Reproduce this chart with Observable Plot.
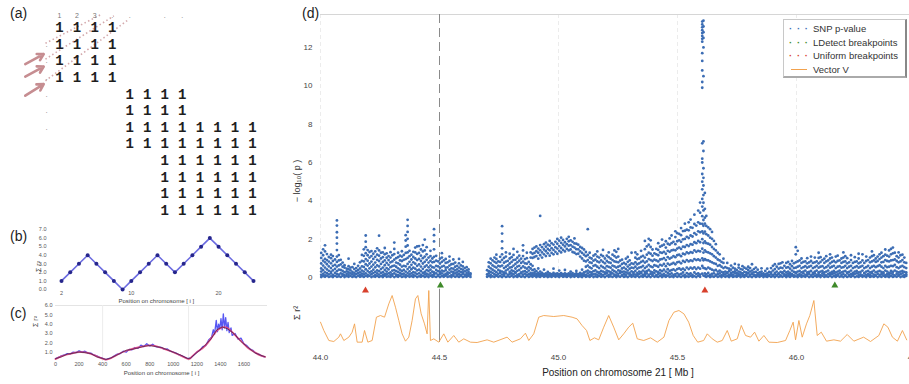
<!DOCTYPE html>
<html><head><meta charset="utf-8">
<script src="https://cdn.jsdelivr.net/npm/d3@7"></script>
<script src="https://cdn.jsdelivr.net/npm/@observablehq/plot@0.6"></script>
<style>
html,body{margin:0;padding:0;background:#fff;}
#root{position:relative;width:909px;height:384px;overflow:hidden;font-family:"Liberation Sans",Arial,sans-serif;background:#fff;}
.pane{position:absolute;}
.pane svg{background:transparent !important;max-width:none !important;display:block;}
.plab{position:absolute;font-size:14px;color:#222;font-family:"Liberation Sans",Arial,sans-serif;}
#legend{position:absolute;left:783px;top:19px;width:121px;height:56px;border:1px solid #c8c8c8;border-right:2px solid #888;border-bottom:2px solid #aaa;background:#fff;font-size:9.5px;color:#333;}
#legend .row{position:absolute;left:0;height:13px;line-height:13px;white-space:nowrap;}
#legend .mk{position:absolute;left:5px;width:20px;text-align:center;font-weight:bold;letter-spacing:1px;}
#legend .tx{position:absolute;left:29px;}
</style></head>
<body><div id="root"></div>
<script>
// ---------------- Panel (a): block matrix ----------------
const matrixRowSpans = [[0,3],[0,3],[0,3],[0,3],[4,7],[4,7],[4,11],[4,11],[6,11],[6,11],[6,11],[6,11]];
const matrixHeader = ["1","2","3",".","."," ",".","."];
const matrixRowMarks = [".",".",".",".",".","."];
const diagArrows = [[-1.95,2.2,-0.9,1.6],[-1.95,2.95,-0.9,2.35],[-1.95,4.1,-0.9,3.4]];
const diagDotted = [[-0.8,0.95,2.4,-0.8],[-0.8,1.9,3.1,-0.7],[-0.8,3.2,3.9,-0.45]];

// ---------------- Panel (b): toy sum vector ----------------
const bPos = [2,3,4,5,6,7,8,9,10,11,12,13,14,15,16,17,18,19,20,21,22,23,24];
const bSum = [1,2,3,4,3,2,1,0,1,2,3,4,3,2,3,4,5,6,5,4,3,2,1];
const bYTicks = [0,1,2,3,4,5,6,7];
const bXTicks = [2,10,20];

// ---------------- Panel (c): simulated chromosome ----------------
const cSmoothPos = [0,50,100,150,200,250,300,350,400,430,470,520,600,700,780,840,900,980,1060,1120,1145,1200,1260,1320,1370,1415,1460,1515,1570,1630,1690,1740,1780];
const cSmoothVal = [0.25,0.55,0.75,0.9,1.0,0.98,0.82,0.55,0.3,0.2,0.35,0.7,1.15,1.5,1.7,1.68,1.45,1.1,0.65,0.3,0.35,1.0,1.55,2.45,3.3,3.65,3.6,2.95,2.25,1.5,1.0,0.65,0.5];
const cNoisyPos = [0,25,50,75,100,125,150,175,200,225,250,275,300,325,350,375,400,425,450,475,500,525,550,575,600,625,650,675,700,725,750,775,800,825,850,875,900,925,950,975,1000,1025,1050,1075,1100,1125,1150,1175,1200,1225,1250,1275,1300,1325,1340,1350,1365,1375,1385,1395,1405,1415,1425,1435,1445,1455,1465,1475,1490,1500,1525,1550,1575,1600,1625,1650,1675,1700,1725,1750,1775];
const cNoisyVal = [0.3,0.45,0.6,0.7,0.85,0.8,1.0,0.95,1.15,1.0,1.1,0.9,0.9,0.7,0.6,0.45,0.35,0.2,0.3,0.4,0.6,0.8,0.85,1.1,1.0,1.3,1.25,1.5,1.4,1.75,1.6,1.9,1.65,1.85,1.6,1.55,1.5,1.3,1.35,1.1,1.0,0.9,0.7,0.6,0.45,0.3,0.4,0.7,1.0,1.2,1.6,1.7,2.3,2.6,3.4,2.9,4.4,3.2,4.0,3.5,4.6,3.4,5.1,3.6,4.7,3.3,4.2,3.1,3.6,2.8,3.0,2.4,2.5,1.9,1.7,1.35,1.2,0.9,0.8,0.6,0.5];
const cBlackPos = [0,50,100,150,200,250,300,350,400,430,470,520,600,650,700,750,800,850,900,950,1000,1060,1120,1145,1200,1260,1320,1370,1415,1460,1515,1570,1630,1690,1740,1780];
const cBlackVal = [0.3,0.5,0.8,0.88,1.02,0.95,0.85,0.5,0.32,0.22,0.38,0.68,1.2,1.3,1.45,1.62,1.72,1.6,1.5,1.25,1.0,0.7,0.32,0.35,0.95,1.6,2.4,3.4,3.7,3.5,3.0,2.2,1.55,0.95,0.68,0.5];
const cXTicks = [0,200,400,600,800,1000,1200,1400,1600];
const cYTicks = [1,2,3,4,5,6];
const cBlockEdges = [400,1130];

// ---------------- Panel (d): chromosome 21 ----------------
const dXTicks = [44.0,44.5,45.0,45.5,46.0,46.5];
const dYTicks = [0,2,4,6,8,10,12];
const dYMax = 13.72;
const highlightPos = [44.5];
const ldetectBreaks = [44.504, 46.161];
const uniformBreaks = [44.189, 45.615];

// SNP -log10(p): [position (Mb), values read at that position]
const snpSegA = [
[44.003,[0.02,0.14,0.31,0.47,0.73,1.02,1.28]],[44.011,[0.07,0.19,0.38,0.62,0.88,1.16,1.47]],[44.019,[0.04,0.11,0.27,0.52,0.79,0.97,1.36,1.68]],
[44.027,[0.09,0.23,0.42,0.69,0.91,1.22]],[44.035,[0.03,0.16,0.35,0.58,0.83,1.07]],[44.044,[0.06,0.21,0.29,0.49,0.74,1.01,1.19]],
[44.052,[0.02,0.13,0.37,0.61,0.86,1.12]],[44.061,[0.08,0.24,0.45,0.66,0.94]],[44.069,[0.04,0.18,0.33,0.57,0.81,1.09,1.43,1.77,2.08,2.36,2.71,2.98]],
[44.077,[0.06,0.15,0.41,0.63,0.89,1.17]],[44.085,[0.03,0.22,0.39,0.68,0.92]],[44.093,[0.09,0.17,0.34,0.56,0.78]],
[44.101,[0.02,0.12,0.28,0.51,0.64]],[44.110,[0.07,0.19,0.32,0.46]],[44.118,[0.04,0.14,0.26,0.43,0.59,0.98]],
[44.126,[0.08,0.21,0.37,0.52]],[44.134,[0.03,0.16,0.29,0.54]],[44.142,[0.06,0.11,0.24,0.44,0.71]],
[44.150,[0.02,0.18,0.33,0.49]],[44.158,[0.09,0.23,0.38,0.61]],[44.166,[0.04,0.13,0.27,0.47,0.79]],
[44.174,[0.07,0.2,0.36,0.58,0.87,1.18]],[44.182,[0.03,0.16,0.31,0.55,0.84,1.13,1.47]],[44.190,[0.08,0.22,0.43,0.69,0.96,1.27,1.58,1.87,2.19]],
[44.198,[0.05,0.14,0.34,0.62,0.88,1.16,1.43]],[44.206,[0.09,0.26,0.48,0.73,1.04,1.33]],[44.214,[0.02,0.17,0.32,0.57,0.83,1.12,1.38]],
[44.222,[0.06,0.23,0.41,0.67,0.97,1.24]],[44.230,[0.04,0.12,0.29,0.53,0.78,1.08,1.36]],[44.238,[0.08,0.21,0.37,0.63,0.92,1.19,1.52]],
[44.246,[0.03,0.15,0.33,0.58,0.86,1.14,1.41,2.18]],[44.254,[0.07,0.24,0.44,0.71,0.99,1.29]],[44.262,[0.02,0.13,0.28,0.52,0.81,1.06,1.31]],
[44.270,[0.09,0.19,0.39,0.64,0.89,1.21,1.54]],[44.278,[0.04,0.16,0.31,0.49,0.76,1.03,1.26]],[44.286,[0.06,0.22,0.42,0.66,0.91,1.12]],
[44.294,[0.03,0.14,0.27,0.54,0.79,1.04,1.32]],[44.302,[0.08,0.18,0.36,0.59,0.84,1.16]],[44.310,[0.02,0.21,0.38,0.62,0.93,1.22,1.49,1.82]],
[44.318,[0.07,0.15,0.33,0.56,0.78,1.01]],[44.326,[0.04,0.12,0.29,0.48,0.74,1.06,1.29]],[44.334,[0.09,0.24,0.41,0.67,0.89,1.14]],
[44.342,[0.03,0.17,0.34,0.57,0.86,1.09,1.37]],[44.350,[0.06,0.2,0.39,0.61,0.92,1.18]],[44.358,[0.02,0.13,0.31,0.58,0.96,1.28,1.61,1.93,2.21]],
[44.366,[0.08,0.23,0.44,0.71,1.02,1.31,1.67,2.02,2.38,2.69,3.01]],[44.374,[0.04,0.16,0.32,0.54,0.82,1.11,1.39]],[44.382,[0.07,0.21,0.43,0.66,0.94,1.19]],
[44.390,[0.03,0.14,0.28,0.51,0.79,1.07,1.34]],[44.398,[0.09,0.25,0.46,0.72,0.99,1.31,1.56]],[44.406,[0.02,0.18,0.37,0.61,0.91,1.23,1.62]],
[44.414,[0.06,0.22,0.41,0.68,0.97,1.28,1.64]],[44.422,[0.04,0.13,0.33,0.57,0.86,1.14,1.46]],[44.430,[0.08,0.24,0.45,0.73,1.01,1.36,1.69]],
[44.438,[0.03,0.16,0.29,0.56,0.82,1.09,1.41,1.98]],[44.446,[0.07,0.2,0.38,0.63,0.92,1.21,1.58]],[44.454,[0.02,0.15,0.34,0.53,0.78,1.04]],
[44.462,[0.09,0.23,0.41,0.62,0.87,1.12,1.39]],[44.470,[0.04,0.12,0.31,0.54,0.79,0.99]],[44.477,[0.06,0.18,0.27,0.52,0.81,1.08,1.47,1.88,2.21,2.52]],
[44.486,[0.03,0.21,0.39,0.61,0.88,1.13]],[44.494,[0.08,0.14,0.33,0.58,0.84]],[44.502,[0.02,0.17,0.29,0.49,0.73,0.98]],
[44.510,[0.07,0.22,0.36,0.57,0.82,1.04,1.27]],[44.518,[0.04,0.13,0.32,0.61,0.89]],[44.526,[0.09,0.19,0.38,0.51,0.76,0.97]],
[44.534,[0.03,0.16,0.27,0.53,0.79]],[44.542,[0.06,0.24,0.41,0.62,0.86,1.09]],[44.550,[0.02,0.12,0.31,0.48,0.69]],
[44.558,[0.08,0.18,0.29,0.46,0.71,0.94]],[44.566,[0.04,0.21,0.37,0.56,0.78]],[44.574,[0.07,0.14,0.26,0.42,0.61]],
[44.582,[0.03,0.17,0.33,0.52,0.74,0.97]],[44.590,[0.09,0.12,0.28,0.44,0.63]],[44.598,[0.02,0.19,0.26,0.41,0.58,0.81]],
[44.606,[0.06,0.15,0.32,0.49]],[44.614,[0.04,0.11,0.23,0.37,0.54]],[44.622,[0.08,0.17,0.29,0.42]],[44.630,[0.03,0.14,0.22]]
];
const snpSegB = [
[44.700,[0.04,0.16,0.38]],[44.707,[0.08,0.21,0.33,0.56,0.79]],[44.715,[0.02,0.13,0.29,0.48,0.74,0.98]],
[44.723,[0.06,0.24,0.41,0.63,0.89]],[44.731,[0.03,0.17,0.35,0.57,0.82,1.04]],[44.739,[0.09,0.12,0.28,0.52,0.76,0.97,1.19]],
[44.747,[0.04,0.19,0.39,0.61,0.84]],[44.755,[0.07,0.23,0.34,0.58,0.81,1.08]],[44.763,[0.02,0.15,0.31,0.62,0.92,1.21,1.52,1.88,2.29,2.68]],
[44.771,[0.08,0.18,0.27,0.49,0.77,1.02]],[44.779,[0.03,0.22,0.36,0.56,0.83,1.09,1.31]],[44.787,[0.06,0.14,0.42,0.63,0.87]],
[44.795,[0.04,0.19,0.29,0.51,0.73,0.99,1.24]],[44.803,[0.09,0.21,0.37,0.54,0.81,1.06]],[44.811,[0.02,0.16,0.33,0.62,0.91,1.18,1.49]],
[44.819,[0.07,0.24,0.28,0.47,0.71,0.93]],[44.827,[0.03,0.13,0.35,0.57,0.79,1.03,1.34]],[44.835,[0.08,0.18,0.39,0.61,0.88,1.14]],
[44.843,[0.04,0.22,0.26,0.49,0.76,0.98]],[44.851,[0.06,0.15,0.31,0.58,0.83,1.12,1.41,1.68]],[44.859,[0.02,0.19,0.33,0.52,0.74,0.96]],
[44.867,[0.09,0.12,0.27,0.46,0.72,1.01,1.29]],[44.875,[0.03,0.17,0.36,0.54,0.81]],[44.883,[0.07,0.14,0.24,0.47,0.69,1.04,1.31]],
[44.891,[0.04,0.12,0.21,0.38,0.61,1.02,1.24,1.49]],[44.899,[0.08,0.16,0.26,0.42,1.07,1.28,1.56]],[44.907,[0.02,0.11,0.19,0.33,1.12,1.37,1.62]],
[44.915,[0.06,0.14,0.23,0.47,0.98,1.29,1.51]],[44.923,[0.03,0.12,0.18,0.31,1.16,1.42,1.69,3.21]],[44.931,[0.09,0.15,0.24,1.04,1.31,1.58]],
[44.939,[0.04,0.11,0.17,0.41,1.21,1.46,1.74]],[44.947,[0.07,0.13,0.22,1.12,1.37,1.61,1.82]],[44.955,[0.02,0.1,0.16,0.29,1.26,1.49,1.71]],
[44.963,[0.06,0.14,0.21,1.14,1.42,1.66,1.91]],[44.971,[0.03,0.12,0.18,1.28,1.53,1.79]],[44.979,[0.08,0.15,0.24,0.46,1.21,1.44,1.72]],
[44.987,[0.04,0.11,0.19,1.34,1.58,1.86]],[44.995,[0.07,0.13,0.22,1.24,1.51,1.76,2.01]],[45.003,[0.02,0.12,0.17,0.36,1.39,1.64,1.92]],
[45.011,[0.09,0.14,0.23,1.31,1.54,1.81,2.08]],[45.019,[0.04,0.1,0.18,1.44,1.71,1.96]],[45.027,[0.06,0.13,0.21,0.39,1.36,1.62,1.84]],
[45.035,[0.03,0.11,0.17,1.49,1.74,2.02]],[45.043,[0.08,0.15,0.22,1.41,1.66,1.89,2.12]],[45.051,[0.02,0.12,0.19,0.31,1.46,1.69,1.94]],
[45.059,[0.07,0.14,0.23,1.33,1.61,1.86]],[45.067,[0.04,0.1,0.17,1.29,1.56,1.78,2.04]],[45.075,[0.09,0.13,0.21,0.34,1.22,1.48,1.76]],
[45.083,[0.03,0.11,0.18,1.24,1.47,1.71]],[45.091,[0.06,0.15,0.24,1.09,1.36,1.59]],[45.099,[0.02,0.12,0.19,0.41,0.99,1.28,1.54]],
[45.107,[0.08,0.16,0.27,0.88,1.19,1.46]],[45.115,[0.04,0.14,0.31,0.56,0.84,1.11,1.33]],[45.123,[0.07,0.21,0.36,0.62,0.91,1.18,2.52]],
[45.131,[0.03,0.13,0.29,0.53,0.79,1.04,1.29]],[45.139,[0.09,0.18,0.26,0.48,0.76,0.99]],[45.147,[0.02,0.16,0.33,0.61,0.88,1.14]]
];
const snpSegC = [
[45.155,[0.06,0.19,0.37,0.64,0.93,1.21]],[45.163,[0.03,0.14,0.29,0.56,0.84,1.09,1.36]],[45.171,[0.08,0.22,0.26,0.49,0.79,1.04]],
[45.179,[0.04,0.17,0.34,0.61,0.89,1.18]],[45.187,[0.07,0.12,0.31,0.54,0.81,1.11,1.44]],[45.195,[0.02,0.19,0.27,0.48,0.74,0.99]],
[45.203,[0.09,0.23,0.36,0.59,0.86,1.14]],[45.211,[0.04,0.13,0.32,0.55,0.79,1.06,1.31]],[45.219,[0.06,0.18,0.28,0.51,0.76,0.98]],
[45.227,[0.03,0.21,0.39,0.62,0.91,1.19]],[45.235,[0.08,0.15,0.33,0.58,0.84,1.12,1.41]],[45.243,[0.02,0.11,0.26,0.52,0.81,1.04,1.34]],
[45.251,[0.07,0.19,0.37,0.56,0.79,1.09,1.49]],[45.259,[0.04,0.24,0.34,0.61,0.88]],[45.267,[0.09,0.14,0.29,0.47,0.71,0.93]],
[45.275,[0.03,0.17,0.31,0.52,0.76]],[45.283,[0.06,0.12,0.26,0.44,0.69,0.98]],[45.291,[0.02,0.21,0.36,0.57,0.82,1.07]],
[45.299,[0.08,0.16,0.24,0.46,0.66,0.89]],[45.307,[0.04,0.13,0.32,0.51,0.74,1.29]],[45.315,[0.07,0.19,0.27,0.49,0.71]],
[45.323,[0.03,0.15,0.34,0.56,0.79,1.03,1.31]],[45.331,[0.09,0.11,0.23,0.46,0.69,0.96,1.21]],[45.339,[0.02,0.18,0.31,0.52,0.74,0.99]],
[45.347,[0.06,0.22,0.28,0.54,0.81,1.08,1.39]],[45.355,[0.04,0.14,0.36,0.61,0.86,1.13]],[45.363,[0.08,0.17,0.29,0.49,0.78,1.04,1.48,1.91]],
[45.371,[0.03,0.21,0.33,0.57,0.84,1.19,1.62]],[45.379,[0.07,0.13,0.39,0.66,0.96,1.29,1.71,2.02]],[45.387,[0.02,0.19,0.31,0.58,0.91,1.24,1.59,1.94]],
[45.395,[0.09,0.16,0.27,0.54,0.86,1.14,1.46]],[45.403,[0.04,0.23,0.37,0.64,0.93,1.26]],[45.411,[0.06,0.12,0.32,0.61,0.89,1.21,1.49]],
[45.419,[0.03,0.18,0.28,0.56,0.84,1.16,1.44,1.79]],[45.427,[0.08,0.22,0.38,0.66,0.94,1.31,1.61]],[45.435,[0.02,0.14,0.33,0.62,0.96,1.28,1.66,1.98]],
[45.443,[0.07,0.19,0.41,0.71,1.01,1.34,1.71]],[45.451,[0.04,0.11,0.31,0.59,0.91,1.24,1.56,1.89]],[45.459,[0.09,0.24,0.43,0.72,1.06,1.39,1.76]],
[45.467,[0.03,0.16,0.34,0.66,0.98,1.34,1.71,2.04]],[45.475,[0.06,0.21,0.38,0.71,1.04,1.41,1.79,2.19]],[45.483,[0.02,0.13,0.42,0.76,1.12,1.44,1.86]],
[45.491,[0.08,0.18,0.36,0.69,1.06,1.42,1.74,2.11,2.41]],[45.499,[0.04,0.22,0.44,0.79,1.16,1.51,1.89,2.31]],[45.507,[0.07,0.15,0.47,0.82,1.19,1.56,1.94,2.28]],
[45.515,[0.03,0.19,0.41,0.74,1.11,1.49,1.86,2.21,2.58]],[45.523,[0.09,0.26,0.46,0.86,1.24,1.61,1.99,2.42]],[45.531,[0.02,0.14,0.39,0.81,1.21,1.59,2.01,2.44,2.81]],
[45.539,[0.06,0.23,0.52,0.91,1.31,1.69,2.12,2.49]],[45.547,[0.04,0.17,0.44,0.84,1.26,1.64,2.06,2.46,2.88]],[45.555,[0.08,0.21,0.51,0.89,1.32,1.74,2.19,2.61,3.02]],
[45.563,[0.03,0.13,0.46,0.86,1.29,1.71,2.14,2.59]],[45.571,[0.07,0.26,0.53,0.96,1.41,1.84,2.31,2.79,3.28]],[45.579,[0.02,0.18,0.44,0.91,1.34,1.79,2.24,2.71]],
[45.587,[0.09,0.22,0.52,0.94,1.39,1.91,2.41,2.88,3.49]],[45.595,[0.04,0.15,0.46,0.89,1.36,1.84,2.36,2.81,3.38,3.91]],
[45.604,[0.2,0.6,1.0,1.5,2.0,2.4,2.8,3.2,3.7,4.1,4.6,5.0,5.4,6.0,6.2,7.0,9.9,10.2,10.8,11.3,11.7,12.3,12.45,12.6,12.75,12.9,13.05,13.2,13.35]],
[45.609,[0.1,0.5,0.9,1.3,1.8,2.3,2.7,3.0,3.5,3.9,4.3,4.8,5.2,5.7,6.6,7.1,10.5,12.0,12.5,12.8,13.1,13.4]],
[45.615,[0.07,0.21,0.48,0.96,1.42,1.88,2.39,2.81,3.12,3.58,4.41]],[45.621,[0.03,0.16,0.44,0.91,1.34,1.79,2.26,2.69,3.21]],
[45.629,[0.08,0.24,0.52,0.89,1.31,1.76,2.19,2.61]],[45.637,[0.02,0.13,0.46,0.84,1.26,1.71,2.08,2.52]],[45.645,[0.06,0.19,0.41,0.79,1.21,1.59,2.02,2.38]],
[45.653,[0.04,0.22,0.36,0.74,1.11,1.49,1.91]],[45.661,[0.09,0.14,0.39,0.71,1.04,1.41,1.74]],[45.669,[0.03,0.17,0.31,0.61,0.94,1.29]],
[45.677,[0.07,0.21,0.36,0.64,0.89,1.21]],[45.685,[0.02,0.12,0.29,0.56,0.81]],[45.693,[0.08,0.18,0.26,0.49,0.76,0.98]]
];
const snpSegD = [
[45.701,[0.04,0.16,0.31,0.54]],[45.709,[0.07,0.22,0.27,0.49,0.76]],[45.717,[0.02,0.13,0.33,0.46]],[45.725,[0.09,0.19,0.24,0.41,0.62]],
[45.733,[0.03,0.14,0.28,0.51]],[45.741,[0.06,0.21,0.32,0.46,0.71]],[45.749,[0.04,0.11,0.23,0.39]],[45.757,[0.08,0.17,0.31,0.52,0.66]],
[45.765,[0.02,0.14,0.26,0.44]],[45.773,[0.07,0.19,0.22,0.41,0.59]],[45.781,[0.03,0.12,0.29,0.51]],[45.789,[0.09,0.16,0.27,0.46]],
[45.797,[0.04,0.21,0.24,0.39,0.56]],[45.805,[0.06,0.13,0.31,0.49]],[45.813,[0.02,0.18,0.21,0.36,0.69]],[45.821,[0.08,0.14,0.27,0.44]],
[45.829,[0.03,0.11,0.29,0.52]],[45.837,[0.07,0.17,0.23,0.41]],[45.845,[0.04,0.13,0.26]],[45.853,[0.09,0.19,0.31,0.48]],
[45.861,[0.02,0.12,0.21]],[45.869,[0.06,0.16,0.34]],[45.877,[0.03,0.11,0.22,0.46]],[45.885,[0.08,0.14,0.29]],
[45.893,[0.04,0.19,0.26,0.49]],[45.901,[0.07,0.12,0.36,0.61]],[45.909,[0.02,0.17,0.24,0.44,0.69]],[45.917,[0.09,0.13,0.31,0.56]],
[45.925,[0.03,0.18,0.22,0.46,0.71]],[45.933,[0.06,0.11,0.29,0.51,0.74]],[45.941,[0.04,0.21,0.27,0.49,0.79]],[45.949,[0.08,0.16,0.34,0.61]],
[45.957,[0.02,0.12,0.26,0.51,0.76]],[45.965,[0.07,0.19,0.31,0.54,0.81]],[45.973,[0.03,0.14,0.24,0.46,0.69]],[45.981,[0.09,0.17,0.36,0.59,0.86]],
[45.989,[0.04,0.11,0.29,0.49,0.74]],[45.997,[0.06,0.21,0.26,0.51,0.79,1.21,1.58]],[46.005,[0.02,0.13,0.31,0.56,0.84,1.39]],[46.013,[0.08,0.18,0.34,0.61,0.89]],
[46.021,[0.03,0.12,0.27,0.49,0.76,0.99]],[46.029,[0.07,0.22,0.31,0.54,0.81]],[46.037,[0.04,0.14,0.36,0.59,0.84]],[46.045,[0.09,0.16,0.26,0.51,0.74,1.01]],
[46.053,[0.02,0.19,0.29,0.56,0.79]],[46.061,[0.06,0.11,0.34,0.61,0.86,1.09]],[46.069,[0.03,0.17,0.24,0.49,0.76]],[46.077,[0.08,0.21,0.31,0.54,0.79,1.04]],
[46.085,[0.04,0.13,0.36,0.61,0.84]],[46.093,[0.07,0.18,0.27,0.51,0.74,1.02,1.29]],[46.101,[0.02,0.12,0.31,0.56,0.81,1.06]],[46.109,[0.09,0.22,0.34,0.59,0.91]],
[46.117,[0.03,0.15,0.26,0.49,0.76,0.98]],[46.125,[0.06,0.11,0.31,0.54,0.84,1.11]],[46.133,[0.04,0.19,0.36,0.62,0.89]],[46.141,[0.08,0.14,0.24,0.51,0.74,0.99,1.21]],
[46.149,[0.02,0.17,0.29,0.56,0.81,1.04]],[46.157,[0.07,0.21,0.34,0.61,0.86]],[46.165,[0.03,0.12,0.26,0.49,0.79,1.09]],[46.173,[0.09,0.16,0.31,0.56,0.86,1.14]],
[46.181,[0.04,0.22,0.36,0.59,0.89]],[46.189,[0.06,0.13,0.27,0.51,0.76,0.99]],[46.197,[0.02,0.18,0.31,0.54,0.81,1.04,1.31]],[46.205,[0.08,0.11,0.34,0.61,0.84,1.11]],
[46.213,[0.03,0.21,0.26,0.49,0.74,1.01]],[46.221,[0.07,0.14,0.29,0.56,0.79]],[46.229,[0.04,0.17,0.36,0.61,0.91,1.16]],[46.237,[0.09,0.12,0.24,0.49,0.76]],
[46.245,[0.02,0.19,0.31,0.54,0.81,1.06]],[46.253,[0.06,0.22,0.34,0.59,0.84]],[46.261,[0.03,0.13,0.26,0.51,0.74,0.99,1.24]],[46.269,[0.08,0.16,0.29,0.56,0.79]],
[46.277,[0.04,0.11,0.36,0.61,0.89,1.21]],[46.285,[0.07,0.21,0.24,0.49,0.76]],[46.293,[0.02,0.14,0.31,0.54,0.86,1.09]],[46.301,[0.09,0.18,0.34,0.61,0.91]],
[46.309,[0.03,0.12,0.26,0.49,0.79,1.04]],[46.317,[0.06,0.22,0.29,0.56,0.84,1.11,1.36]],[46.325,[0.04,0.15,0.36,0.61,0.89,1.16]],[46.333,[0.08,0.11,0.27,0.54,0.81,0.99]],
[46.341,[0.02,0.19,0.31,0.59,0.86,1.09]],[46.349,[0.07,0.14,0.34,0.64,0.96,1.21]],[46.357,[0.03,0.17,0.29,0.56,0.79,1.04,1.29]],[46.365,[0.09,0.21,0.26,0.49,0.81,1.11]],
[46.373,[0.04,0.12,0.36,0.61,0.91,1.19,1.46]],[46.381,[0.06,0.18,0.31,0.54,0.86,1.14]],[46.389,[0.02,0.14,0.24,0.56,0.84,1.09,1.41]],[46.397,[0.08,0.22,0.34,0.61,0.89,1.21,1.49]],
[46.405,[0.03,0.16,0.29,0.59,0.91,1.26,1.56]],[46.413,[0.07,0.11,0.36,0.66,0.94,1.29]],[46.421,[0.04,0.19,0.31,0.54,0.86,1.11]],[46.429,[0.09,0.13,0.26,0.49,0.79,1.04,1.31]],
[46.437,[0.02,0.17,0.31,0.56,0.84,1.16]],[46.445,[0.06,0.21,0.34,0.61,0.91,1.19]],[46.453,[0.03,0.12,0.29,0.54,0.79,1.04]],[46.461,[0.08,0.16,0.26,0.49,0.76]]
];

// Vector V (sum of r^2), arbitrary units: [position (Mb), value]
const vectorV = [
[44.000,3.05],[44.014,1.8],[44.035,0.3],[44.056,0.15],[44.077,0.8],[44.084,1.3],[44.098,0.3],[44.119,0.8],[44.133,1.55],[44.143,2.8],
[44.154,0.05],[44.175,0.05],[44.185,1.8],[44.199,0.05],[44.217,0.3],[44.235,3.8],[44.252,4.05],[44.269,3.8],[44.287,5.8],[44.301,7.05],
[44.315,5.3],[44.329,3.3],[44.343,1.3],[44.357,0.2],[44.371,0.8],[44.385,3.3],[44.399,6.55],[44.409,7.05],[44.423,4.3],[44.437,2.8],
[44.448,1.3],[44.455,7.8],[44.462,0.3],[44.476,0.55],[44.497,0.05],[44.518,1.3],[44.535,0.05],[44.560,1.05],[44.581,0.05],[44.602,0.55],
[44.630,0.05],[44.658,0],[44.700,0.4],[44.728,0.05],[44.784,0.8],[44.805,0.05],[44.840,0.55],[44.861,1.4],[44.875,0.3],[44.896,1.3],
[44.917,3.8],[44.938,4.05],[44.980,3.9],[45.022,4.05],[45.057,3.8],[45.078,3.55],[45.099,2.55],[45.118,1.8],[45.132,0.3],[45.151,0.7],
[45.169,0.4],[45.190,2.3],[45.211,4.05],[45.232,2.3],[45.253,0.4],[45.274,1.3],[45.295,2.3],[45.312,2.9],[45.331,0.55],[45.358,0.3],
[45.387,0.7],[45.415,0.05],[45.443,0.8],[45.464,3.3],[45.485,4.55],[45.506,4.8],[45.527,4.3],[45.547,3.05],[45.566,1.05],[45.585,0.05],
[45.610,0.3],[45.625,1.3],[45.646,0.55],[45.667,0.05],[45.688,0.3],[45.709,1.8],[45.726,0.2],[45.751,0.55],[45.768,2.55],[45.786,1.05],
[45.807,0.8],[45.824,1.55],[45.842,0.2],[45.863,1.05],[45.884,0.05],[45.919,0],[45.954,0.3],[45.972,1.8],[45.986,3.05],[45.996,0.4],
[46.010,3.3],[46.024,0.8],[46.042,2.8],[46.056,4.05],[46.073,6.3],[46.087,1.05],[46.104,1.55],[46.126,0.2],[46.157,0.4],[46.185,0.2],
[46.213,1.2],[46.241,0.2],[46.282,0.8],[46.311,0.15],[46.346,1.05],[46.367,2.8],[46.384,2.3],[46.403,0.8],[46.424,0.2],[46.445,1.8],[46.463,0.4]
];

// ---------------- Build ----------------
const root = document.getElementById("root");
function place(el, left, top) {
  const d = document.createElement("div");
  d.className = "pane"; d.style.left = left + "px"; d.style.top = top + "px";
  d.appendChild(el); root.appendChild(d); return d;
}
function label(txt, left, top) {
  const d = document.createElement("div");
  d.className = "plab"; d.textContent = txt; d.style.left = left + "px"; d.style.top = top + "px";
  root.appendChild(d);
}
const FONT = "Liberation Sans, Arial, sans-serif";

// Panel (a)
const cells = matrixRowSpans.flatMap(([a, b], r) => d3.range(a, b + 1).map(c => ({r, c})));
const plotA = Plot.plot({
  width: 280, height: 220, marginLeft: 59, marginRight: 28, marginTop: 27, marginBottom: 10,
  x: {domain: [0, 11], axis: null}, y: {domain: [0, 11], reverse: true, axis: null},
  style: {background: "transparent", fontFamily: FONT},
  marks: [
    Plot.link(diagDotted, {x1: d => d[0], y1: d => d[1], x2: d => d[2], y2: d => d[3], stroke: "#d4a9ac", strokeWidth: 1.6, strokeDasharray: "1.5,2.5"}),
    Plot.arrow(diagArrows, {x1: d => d[0], y1: d => d[1], x2: d => d[2], y2: d => d[3], stroke: "#c68d91", strokeWidth: 2.6, headLength: 8}),
    Plot.text(matrixHeader, {x: (d, i) => i, frameAnchor: "top", dy: -14, text: d => d, fontSize: 7, fill: "#777"}),
    Plot.text(matrixRowMarks, {y: (d, i) => i + 1, frameAnchor: "left", dx: -14, text: d => d, fontSize: 8, fill: "#888"}),
    Plot.text(cells, {x: "c", y: "r", text: () => "1", fontFamily: "Liberation Mono, DejaVu Sans Mono, monospace", fontWeight: "bold", fontSize: 14, fill: "#1e1e1e"})
  ]
});
place(plotA, 0, 0);

// Panel (b)
const bData = bPos.map((p, i) => ({p, v: bSum[i]}));
const plotB = Plot.plot({
  width: 280, height: 84, marginLeft: 50, marginRight: 18.3, marginTop: 3, marginBottom: 21,
  x: {domain: [0.74, 25], ticks: bXTicks, tickSize: 0, tickPadding: 2, label: null},
  y: {domain: [0, 7], ticks: bYTicks, tickSize: 0, tickPadding: 4, label: null},
  style: {background: "transparent", fontFamily: FONT, fontSize: "5.5px", color: "#555"},
  marks: [
    Plot.line(bData, {x: "p", y: "v", stroke: "#6b6be0", strokeWidth: 1.6}),
    Plot.dot(bData, {x: "p", y: "v", r: 2, fill: "#26268c", stroke: null}),
    Plot.text(["Position on chromosome [ i ]"], {frameAnchor: "bottom", dy: 13, fontSize: 6, fill: "#444"}),
    Plot.text(["Σ r²"], {frameAnchor: "left", dx: -12, dy: 7, rotate: -90, textAnchor: "middle", fontSize: 7, fill: "#444"})
  ]
});
place(plotB, 0, 226);

// Panel (c)
const cSmooth = cSmoothPos.map((p, i) => ({p, v: cSmoothVal[i]}));
const cNoisy = cNoisyPos.map((p, i) => ({p, v: cNoisyVal[i]}));
const cBlack = cBlackPos.map((p, i) => ({p, v: cBlackVal[i]}));
const plotC = Plot.plot({
  width: 280, height: 84, marginLeft: 55, marginRight: 13, marginTop: 5, marginBottom: 23,
  x: {domain: [0, 1800], ticks: cXTicks, tickFormat: d3.format("d"), tickSize: 0, tickPadding: 1, label: null},
  y: {domain: [0, 6], ticks: cYTicks, tickSize: 0, tickPadding: 3, tickFormat: d3.format(".1f"), label: null},
  style: {background: "transparent", fontFamily: FONT, fontSize: "5.5px", color: "#555"},
  marks: [
    Plot.ruleY(cYTicks.slice(-1), {stroke: "#e4e4e4"}),
    Plot.ruleX(cBlockEdges, {stroke: "#ececec"}),
    Plot.line(cNoisy, {x: "p", y: "v", stroke: "#3a3af0", strokeWidth: 1.3, strokeOpacity: 0.85}),
    Plot.line(cSmooth, {x: "p", y: "v", stroke: "#e8407a", strokeWidth: 1.8, curve: "natural", strokeOpacity: 0.85}),
    Plot.line(cBlack, {x: "p", y: "v", stroke: "#2a1a3a", strokeWidth: 0.8, strokeOpacity: 0.8}),
    Plot.text(["Position on chromosome [ i ]"], {frameAnchor: "bottom", dy: 13, fontSize: 6, fill: "#444"}),
    Plot.text(["Σ r²"], {frameAnchor: "left", dx: -20, dy: -12, rotate: -90, textAnchor: "middle", fontSize: 7, fill: "#444"})
  ]
});
place(plotC, 0, 300);

// Panel (d) scatter
const snp = [...snpSegA, ...snpSegB, ...snpSegC, ...snpSegD].flatMap(([x, vs]) => vs.map(v => ({x, v})));
const plotD = Plot.plot({
  width: 640, height: 300, marginLeft: 30, marginRight: 15, marginTop: 14, marginBottom: 23,
  x: {domain: [44, 46.5], axis: null},
  y: {domain: [0, dYMax], ticks: dYTicks, tickSize: 0, tickPadding: 8, label: null},
  style: {background: "transparent", fontFamily: FONT, fontSize: "8px", color: "#444"},
  marks: [
    Plot.ruleX(dXTicks.filter(t => !highlightPos.includes(t)), {stroke: "#ececec", strokeDasharray: "4,3"}),
    Plot.ruleY([dYMax], {stroke: "#d6d6d6"}),
    Plot.ruleX(highlightPos, {stroke: "#8a8a8a", strokeWidth: 1, strokeDasharray: "9,5"}),
    Plot.dot(snp, {x: "x", y: "v", r: 1.4, fill: "#3c6db4", stroke: null}),
    Plot.dot(ldetectBreaks, {x: d => d, frameAnchor: "bottom", dy: 8, symbol: "triangle", r: 2.6, fill: "#3f8a2a", stroke: null}),
    Plot.dot(uniformBreaks, {x: d => d, frameAnchor: "bottom", dy: 13, symbol: "triangle", r: 2.6, fill: "#d8402c", stroke: null}),
    Plot.text(["− log₁₀( p )"], {frameAnchor: "left", dx: -23, dy: 35, rotate: -90, textAnchor: "middle", fontSize: 9, fill: "#333"})
  ]
});
place(plotD, 290, 0);

// Panel (d) Vector V
const vData = vectorV.map(([x, v]) => ({x, v}));
const plotV = Plot.plot({
  width: 640, height: 104, marginLeft: 30, marginRight: 15, marginTop: 8.7, marginBottom: 42,
  x: {domain: [44, 46.5], ticks: dXTicks, tickFormat: d3.format(".1f"), tickSize: 0, tickPadding: 12, label: null},
  y: {domain: [0, 8], axis: null},
  style: {background: "transparent", fontFamily: FONT, fontSize: "8px", color: "#444"},
  marks: [
    Plot.ruleX(highlightPos, {stroke: "#8a8a8a", strokeWidth: 1}),
    Plot.line(vData, {x: "x", y: "v", stroke: "#f2a24e", strokeWidth: 1, strokeOpacity: 0.9}),
    Plot.text(["Position on chromosome 21 [ Mb ]"], {frameAnchor: "bottom", dy: 33, fontSize: 10, fill: "#222"}),
    Plot.text(["Σ r²"], {frameAnchor: "left", dx: -23, dy: -3, rotate: -90, textAnchor: "middle", fontSize: 9, fill: "#333"})
  ]
});
place(plotV, 290, 280);

// panel labels
label("(a)", 10, 5);
label("(b)", 10, 228);
label("(c)", 10, 305);
label("(d)", 302, 5);

// legend
const legendItems = [
  {name: "SNP p-value", color: "#3c6db4", kind: "dots"},
  {name: "LDetect breakpoints", color: "#3f8a2a", kind: "dots"},
  {name: "Uniform breakpoints", color: "#d8402c", kind: "dots"},
  {name: "Vector V", color: "#f2a24e", kind: "line"}
];
const lg = document.createElement("div"); lg.id = "legend";
legendItems.forEach((it, i) => {
  const row = document.createElement("div"); row.className = "row"; row.style.top = (2 + i * 13.5) + "px"; row.style.width = "120px";
  const mk = document.createElement("span"); mk.className = "mk"; mk.style.color = it.color;
  if (it.kind === "dots") { mk.textContent = "· · ·"; }
  else { const ln = document.createElement("span"); ln.style.cssText = `display:inline-block;width:16px;height:0;border-top:1.5px solid ${it.color};vertical-align:middle;`; mk.appendChild(ln); }
  const tx = document.createElement("span"); tx.className = "tx"; tx.textContent = it.name;
  row.appendChild(mk); row.appendChild(tx); lg.appendChild(row);
});
root.appendChild(lg);
</script>
</body></html>
